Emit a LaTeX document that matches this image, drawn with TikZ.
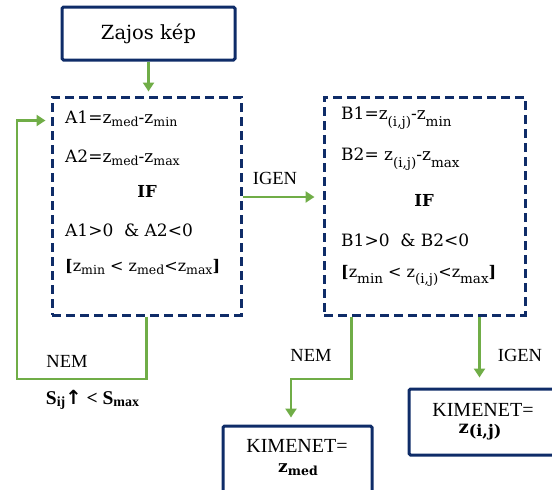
\documentclass[tikz,border=0pt]{standalone}
\usepackage{fontspec}
\setmainfont{DejaVu Serif}
\newfontfamily\timesfont{Liberation Serif}
\newfontfamily\arrowfont{DejaVu Sans}
\usetikzlibrary{arrows.meta}
\definecolor{navy}{HTML}{0F2C68}
\definecolor{leaf}{HTML}{70AD47}
% subscripts set as lowered small text
\newcommand{\lowsub}[1]{\raisebox{-0.35ex}{\fontsize{12.5}{13}\selectfont #1}}
\newcommand{\deepsub}[1]{\raisebox{-0.8ex}{\fontsize{13.5}{14}\selectfont #1}}
\begin{document}
\begin{tikzpicture}[x=1pt,y=-1pt,
  solidbox/.style={draw=navy, line width=3pt, rounded corners=1.5pt, inner sep=0pt},
  dashbox/.style={draw=navy, line width=3pt, dash pattern=on 9pt off 5pt, inner sep=0pt},
  flow/.style={draw=leaf, line width=2.5pt, -{Triangle[length=9pt,width=11pt]}},
  eqtext/.style={anchor=west, inner sep=0pt, font=\fontsize{17}{20}\selectfont},
  label/.style={inner sep=0pt, font=\timesfont\fontsize{18.5}{20}\selectfont},
  outtext/.style={inner sep=0pt, font=\timesfont\fontsize{20}{22}\selectfont}]
\useasboundingbox (0,0) rectangle (552,490);
\clip (0,0) rectangle (552,490);

% boxes
\node[solidbox, minimum width=173pt, minimum height=53pt] (title) at (148.5,33.5) {};
\node[dashbox, minimum width=189pt, minimum height=218pt] (lbox) at (146.5,206) {};
\node[dashbox, minimum width=201pt, minimum height=218pt] (rbox) at (424.5,206) {};
\node[solidbox, minimum width=149pt, minimum height=74pt] (out1) at (297.5,463) {};
\node[solidbox, minimum width=151pt, minimum height=66pt] (out2) at (484.5,422) {};

% title
\node[inner sep=0pt, font=\fontsize{19.5}{22}\selectfont] (ttext) at (148.5,34) {Zajos kép};

% left box contents
\node[eqtext] (a1) at (65,119) {A1=z\lowsub{med}-z\lowsub{min}};
\node[eqtext] (a2) at (65,158) {A2=z\lowsub{med}-z\lowsub{max}};
\node[inner sep=0pt, font=\fontsize{16.5}{18}\selectfont\bfseries] (aif) at (147,191) {IF};
\node[eqtext] (acond) at (65,230) {A1>0\ \ \& A2<0};
\node[eqtext, font=\fontsize{16}{18}\selectfont] (arange) at (65,267)
  {\textbf{[}z\lowsub{min} < z\lowsub{med}<z\lowsub{max}\textbf{]}};

% right box contents
\node[eqtext] (b1) at (341,118) {B1=z\deepsub{(i,j)}-z\deepsub{min}};
\node[eqtext] (b2) at (341,159) {B2= z\deepsub{(i,j)}-z\deepsub{max}};
\node[inner sep=0pt, font=\fontsize{16.5}{18}\selectfont\bfseries] (bif) at (424,200) {IF};
\node[eqtext] (bcond) at (341,240) {B1>0\ \ \& B2<0};
\node[eqtext, font=\fontsize{16}{18}\selectfont] (brange) at (341,276)
  {\textbf{[}z\deepsub{min} < z\deepsub{(i,j)}<z\deepsub{max}\textbf{]}};

% outputs
\node[outtext] (k1) at (297,446) {KIMENET=};
\node[inner sep=0pt, font=\fontsize{17}{18}\selectfont\bfseries] (k1z) at (298,470) {z\lowsub{\bfseries med}};
\node[outtext] (k2) at (483,410) {KIMENET=};
\node[inner sep=0pt, font=\fontsize{18}{20}\selectfont\bfseries] (k2z) at (480,432)
  {z\raisebox{-0.35ex}{\fontsize{16}{17}\selectfont\bfseries(i,j)}};

% connectors
\draw[flow, shorten >=4pt] (title.south) -- (title.south |- lbox.north);

\coordinate (loopA) at (17,379);
\draw[flow, shorten >=5pt] (lbox.south) |- (loopA) |- ([yshift=-25pt]lbox.north west);

\draw[flow, shorten >=8pt] ([yshift=9pt]lbox.east) -- ([yshift=9pt]rbox.west);

\coordinate (nemB) at (291,379);
\draw[flow, shorten >=7pt] ([xshift=29pt]rbox.south west) |- (nemB) -- (nemB |- out1.north);

\draw[flow, shorten >=10pt] ([xshift=-47pt]rbox.south east) -- ([xshift=-47pt]rbox.south east |- out2.north);

% branch labels
\node[label] (nemL) at (67,361) {NEM};
\node[inner sep=0pt, font=\timesfont\fontsize{19.5}{20}\selectfont\bfseries] (sij) at (92.5,400)
  {S\raisebox{-0.3ex}{\fontsize{14}{15}\selectfont ij}{\arrowfont\bfseries ↑} < S\raisebox{-0.3ex}{\fontsize{14}{15}\selectfont max}};
\node[label] (igenM) at (275,178) {IGEN};
\node[label] (nemR) at (311,355) {NEM};
\node[label] (igenR) at (520,355) {IGEN};
\end{tikzpicture}
\end{document}
